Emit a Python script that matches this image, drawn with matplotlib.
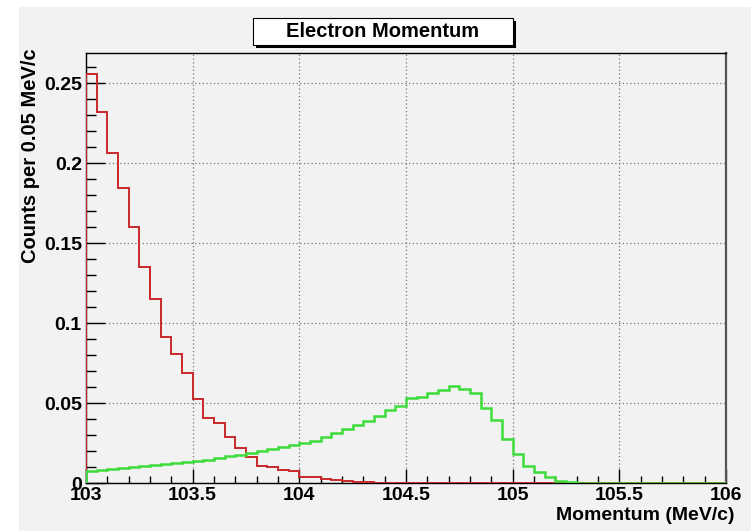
import numpy as np
import matplotlib
matplotlib.use("Agg")
import matplotlib.pyplot as plt
from matplotlib.patches import Rectangle
from matplotlib.ticker import MultipleLocator

# Histogram binning: 0.05 MeV/c bins from 103 to 106
x_min, x_max, bin_width = 103.0, 106.0, 0.05

# Red histogram (bin contents)
red_counts = [
    0.2556, 0.2320, 0.2067, 0.1846, 0.1600, 0.1350, 0.1154, 0.0915, 0.0806, 0.0690,
    0.0525, 0.0408, 0.0377, 0.0285, 0.0220, 0.0160, 0.0106, 0.0098, 0.0080, 0.0075,
    0.0040, 0.0035, 0.0025, 0.0020, 0.0013, 0.0006, 0.0004, 0.0002, 0.0001, 0.0,
    0.0, 0.0, 0.0, 0.0, 0.0, 0.0, 0.0, 0.0, 0.0, 0.0,
    0.0, 0.0, 0.0, 0.0, 0.0, 0.0, 0.0, 0.0, 0.0, 0.0,
    0.0, 0.0, 0.0, 0.0, 0.0, 0.0, 0.0, 0.0, 0.0, 0.0,
]

# Green histogram
green_counts = [
    0.0078, 0.0082, 0.0088, 0.0094, 0.0100, 0.0106, 0.0112, 0.0118, 0.0126, 0.0132,
    0.0138, 0.0146, 0.0156, 0.0166, 0.0176, 0.0188, 0.0200, 0.0212, 0.0224, 0.0236,
    0.0248, 0.0265, 0.0285, 0.0310, 0.0335, 0.0360, 0.0388, 0.0420, 0.0456, 0.0481,
    0.0529, 0.0540, 0.0560, 0.0580, 0.0608, 0.0590, 0.0560, 0.0467, 0.0394, 0.0275,
    0.0180, 0.0106, 0.0071, 0.0040, 0.0015, 0.0007, 0.0003, 0.0001, 0.0, 0.0,
    0.0, 0.0, 0.0, 0.0, 0.0, 0.0, 0.0, 0.0, 0.0, 0.0,
]

x_ticks = [103, 103.5, 104, 104.5, 105, 105.5, 106]
x_tick_labels = ["103", "103.5", "104", "104.5", "105", "105.5", "106"]
y_ticks = [0, 0.05, 0.1, 0.15, 0.2, 0.25]
y_tick_labels = ["0", "0.05", "0.1", "0.15", "0.2", "0.25"]

title = "Electron Momentum"
x_label = "Momentum (MeV/c)"
y_label = "Counts per 0.05 MeV/c"

plt.rcParams["font.family"] = ["Liberation Sans", "DejaVu Sans"]
plt.rcParams["font.weight"] = "bold"

W, H = 751, 531
fig = plt.figure(figsize=(W / 100, H / 100), dpi=100)
fig.patch.set_facecolor("white")

canvas_col = "#f2f2f2"
# canvas (ROOT pad), leaves a thin white border at left/top
fig.patches.append(Rectangle((19 / W, 0), 1 - 19 / W, 1 - 7 / H,
                             transform=fig.transFigure, facecolor=canvas_col,
                             edgecolor="none", zorder=-10))

ax = fig.add_axes([86 / W, 1 - 483 / H, (726 - 86) / W, (483 - 53) / H])
ax.set_facecolor(canvas_col)

edges = np.linspace(x_min, x_max, int(round((x_max - x_min) / bin_width)) + 1)
ax.stairs(red_counts, edges, color="#c8282a", linewidth=1.4, zorder=3)
ax.stairs(green_counts, edges, color="#3ddc3a", linewidth=1.8, zorder=4)

ax.set_xlim(x_min, x_max)
ax.set_ylim(0, 0.269)

ax.set_xticks(x_ticks)
ax.set_xticklabels(x_tick_labels)
ax.set_yticks(y_ticks)
ax.set_yticklabels(y_tick_labels)
ax.xaxis.set_minor_locator(MultipleLocator(0.1))
ax.yaxis.set_minor_locator(MultipleLocator(0.01))

ax.tick_params(axis="x", which="major", direction="in", length=10, width=1,
               labelsize=14, pad=3, top=False)
ax.tick_params(axis="x", which="minor", direction="in", length=5, width=1, top=False)
ax.tick_params(axis="y", which="major", direction="in", length=14, width=1,
               labelsize=14, pad=3, right=False)
ax.tick_params(axis="y", which="minor", direction="in", length=7, width=1, right=False)

ax.grid(True, which="major", linestyle=(0, (1, 2)), color="#777777", linewidth=0.9)
ax.set_axisbelow(True)

for s in ["left", "bottom", "top"]:
    ax.spines[s].set_color("black")
    ax.spines[s].set_linewidth(1.0)
ax.spines["right"].set_color("#555555")
ax.spines["right"].set_linewidth(1.6)

# axis titles in ROOT style: x right-aligned, y top-aligned
fig.text(735 / W, 1 - 516 / H, x_label, ha="right", va="center",
         fontsize=14, fontweight="bold")
fig.text(31 / W, 1 - 48 / H, y_label, ha="center", va="top", rotation=90,
         fontsize=14.5, fontweight="bold")

# title box with drop shadow
bx0, by0, bx1, by1 = 253, 18, 513, 45
fig.patches.append(Rectangle(((bx0 + 3) / W, 1 - (by1 + 3) / H), (bx1 - bx0) / W,
                             (by1 - by0) / H, transform=fig.transFigure,
                             facecolor="black", edgecolor="none", zorder=5))
fig.patches.append(Rectangle((bx0 / W, 1 - by1 / H), (bx1 - bx0) / W, (by1 - by0) / H,
                             transform=fig.transFigure, facecolor="white",
                             edgecolor="black", linewidth=0.8, zorder=6))
fig.text((bx0 + bx1) / 2 / W, 1 - (by0 + by1) / 2 / H, title, ha="center",
         va="center", fontsize=14.5, fontweight="bold", zorder=7)

fig.savefig("out.png", dpi=100, facecolor=fig.get_facecolor())
